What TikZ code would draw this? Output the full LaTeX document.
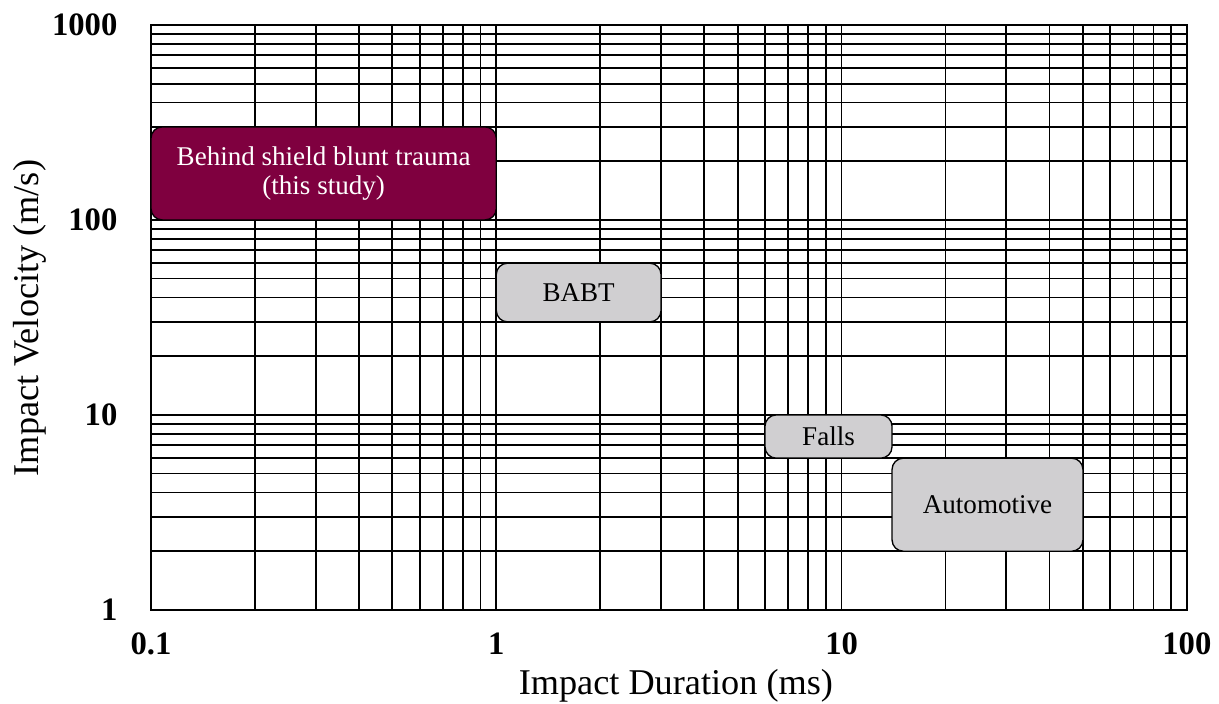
\documentclass[tikz,border=0pt]{standalone}
\usepackage{fontspec}
\setmainfont{Liberation Serif}
\usepackage{xcolor}
\usepackage{tikz}
\usetikzlibrary{positioning}

\definecolor{maroon}{HTML}{7F003F}
\definecolor{boxgray}{HTML}{D0CFD1}

\begin{document}
\begin{tikzpicture}[x=259pt, y=146.25pt]
\tikzstyle{gridline} = [line width=1.3pt, black]
\tikzstyle{region} = [draw=black, line width=1pt, rounded corners=8.5pt]
\tikzstyle{regiontext} = [font=\fontsize{20.3}{22}\selectfont, align=center]
\tikzstyle{tick} = [font=\fontsize{24.5}{24.5}\selectfont\bfseries, inner sep=0pt]
\tikzstyle{axistitle} = [font=\fontsize{27.2}{27.2}\selectfont, inner sep=0pt]

\useasboundingbox (-0.4373,-0.482) rectangle (3.093,3.128);

% log grid, one decade at a time
\foreach \d in {0,1,2} {
  \foreach \k in {1,...,9} {
    \pgfmathsetmacro{\p}{\d+log10(\k)}
    \draw[gridline] (\p,0) -- (\p,3);
    \draw[gridline] (0,\p) -- (3,\p);
  }
}
\draw[gridline] (0,0) rectangle (3,3);

% regions
\draw[region, fill=maroon] (0,2) rectangle (1,2.4771);
\node[regiontext, text=white] (shield) at (0.5,2.2386) {Behind shield blunt trauma\\(this study)};

\draw[region, fill=boxgray] (1,1.4771) rectangle (1.4771,1.7782);
\node[regiontext] (babt) at (1.2386,1.6277) {BABT};

\draw[region, fill=boxgray] (1.7782,0.7782) rectangle (2.1461,1);
\node[regiontext] (falls) at (1.9622,0.8891) {Falls};

\draw[region, fill=boxgray] (2.1461,0.3010) rectangle (2.6990,0.7782);
\node[regiontext] (auto) at (2.4226,0.5396) {Automotive};

% tick labels
\node[tick, anchor=east, xshift=-25pt] (v1) at (0,0) {1};
\node[tick, anchor=east, xshift=-25pt] (v10) at (0,1) {10};
\node[tick, anchor=east, xshift=-25pt] (v100) at (0,2) {100};
\node[tick, anchor=east, xshift=-25pt] (v1000) at (0,3) {1000};

\node[tick, yshift=-25.5pt] (t01) at (0,0) {0.1};
\node[tick, yshift=-25.5pt] (t1) at (1,0) {1};
\node[tick, yshift=-25.5pt] (t10) at (2,0) {10};
\node[tick, yshift=-25.5pt] (t100) at (3,0) {100};

% axis titles
\node[axistitle] (xtitle) at (1.52,-0.39) {Impact Duration (ms)};
\node[axistitle, rotate=90] (ytitle) at (-0.350,1.497) {Impact Velocity (m/s)};

\end{tikzpicture}
\end{document}
